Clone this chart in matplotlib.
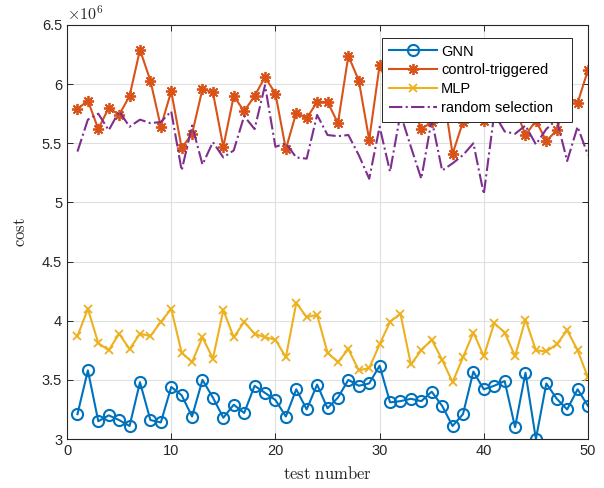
import numpy as np
import matplotlib.pyplot as plt
from matplotlib.ticker import FuncFormatter

plt.rcParams['font.family'] = ['Liberation Sans', 'DejaVu Sans']
plt.rcParams['mathtext.fontset'] = 'cm'

# cost values in units of 1e6, one per test
tests = np.arange(1, 51)
gnn = [3.21, 3.58, 3.15, 3.20, 3.16, 3.11, 3.48, 3.16, 3.14, 3.44,
       3.37, 3.19, 3.50, 3.35, 3.18, 3.29, 3.22, 3.45, 3.39, 3.33,
       3.19, 3.42, 3.25, 3.46, 3.26, 3.35, 3.50, 3.45, 3.47, 3.62,
       3.31, 3.32, 3.34, 3.32, 3.40, 3.28, 3.11, 3.21, 3.57, 3.42,
       3.45, 3.49, 3.10, 3.56, 3.00, 3.47, 3.34, 3.25, 3.42, 3.28]
control = [5.79, 5.86, 5.62, 5.80, 5.74, 5.90, 6.29, 6.03, 5.64, 5.94,
           5.46, 5.58, 5.96, 5.93, 5.47, 5.90, 5.77, 5.90, 6.06, 5.92,
           5.45, 5.76, 5.71, 5.85, 5.85, 5.67, 6.24, 6.03, 5.53, 6.16,
           5.95, 6.10, 5.85, 5.62, 5.68, 6.00, 5.41, 5.68, 5.90, 5.69,
           5.85, 6.00, 5.80, 5.57, 5.69, 5.52, 5.61, 5.90, 5.84, 6.12]
mlp = [3.87, 4.10, 3.81, 3.75, 3.89, 3.76, 3.89, 3.87, 3.99, 4.10,
       3.73, 3.65, 3.86, 3.68, 4.09, 3.86, 3.99, 3.89, 3.86, 3.84,
       3.69, 4.15, 4.03, 4.05, 3.73, 3.65, 3.76, 3.58, 3.60, 3.80,
       3.99, 4.06, 3.63, 3.75, 3.84, 3.67, 3.48, 3.69, 3.90, 3.70,
       3.98, 3.90, 3.70, 4.01, 3.75, 3.74, 3.80, 3.92, 3.75, 3.52]
rand_sel = [5.43, 5.70, 5.75, 5.61, 5.77, 5.64, 5.70, 5.67, 5.68, 5.77,
            5.27, 5.65, 5.32, 5.51, 5.38, 5.44, 5.73, 5.62, 5.99, 5.47,
            5.50, 5.38, 5.37, 5.74, 5.57, 5.56, 5.57, 5.40, 5.20, 5.64,
            5.26, 5.75, 5.47, 5.20, 5.70, 5.27, 5.33, 5.40, 5.50, 5.07,
            5.75, 5.60, 5.58, 5.65, 5.49, 5.62, 5.70, 5.35, 5.64, 5.40]

fig = plt.figure(figsize=(6.04, 4.88), dpi=100)
ax = fig.add_axes([0.111, 0.1004, 0.8625, 0.8484])

ax.plot(tests, gnn, color='#0072BD', lw=1.5, marker='o', ms=8,
        mfc='none', mew=1.5, label='GNN')
ax.plot(tests, control, color='#D95319', lw=1.5, marker=(8, 2, 0), ms=8,
        mew=1.3, label='control-triggered')
ax.plot(tests, mlp, color='#EDB120', lw=1.5, marker='x', ms=6,
        mew=1.3, label='MLP')
ax.plot(tests, rand_sel, color='#7E2F8E', lw=1.5, ls='-.',
        label='random selection')

ax.set_xlim(0, 50)
ax.set_ylim(3, 6.5)
ax.set_xticks(np.arange(0, 51, 10))
ax.set_yticks(np.arange(3, 6.51, 0.5))
ax.yaxis.set_major_formatter(FuncFormatter(lambda v, p: '%g' % v))
ax.grid(True, color='#e0e0e0', lw=0.8)
ax.set_axisbelow(True)
ax.tick_params(direction='in', top=True, right=True, labelsize=10.5,
               colors='#262626', length=4, width=0.7)
for s in ax.spines.values():
    s.set_color('#262626')
    s.set_linewidth(0.8)

ax.text(0.0, 1.006, r'$\times10^{6}$', transform=ax.transAxes,
        fontsize=11.5, color='#262626', ha='left', va='bottom')
ax.set_xlabel(r'$\mathrm{test\ number}$', fontsize=12, color='#262626',
              labelpad=5)
ax.set_ylabel(r'$\mathrm{cost}$', fontsize=12, color='#262626', labelpad=10)

# legend box spans pixels x 382..572, y 38..117
leg = ax.legend(loc='upper left', mode='expand',
                bbox_to_anchor=((382 - 67) / 521, 1 - (117 - 25) / 414,
                                190 / 521, 79 / 414),
                borderaxespad=0, fontsize=10.5, handlelength=3.3,
                fancybox=False, framealpha=1, edgecolor='#262626',
                borderpad=0.45, labelspacing=0.33, handletextpad=0.3)
leg.get_frame().set_linewidth(0.7)

fig.savefig('out.png', dpi=100)
